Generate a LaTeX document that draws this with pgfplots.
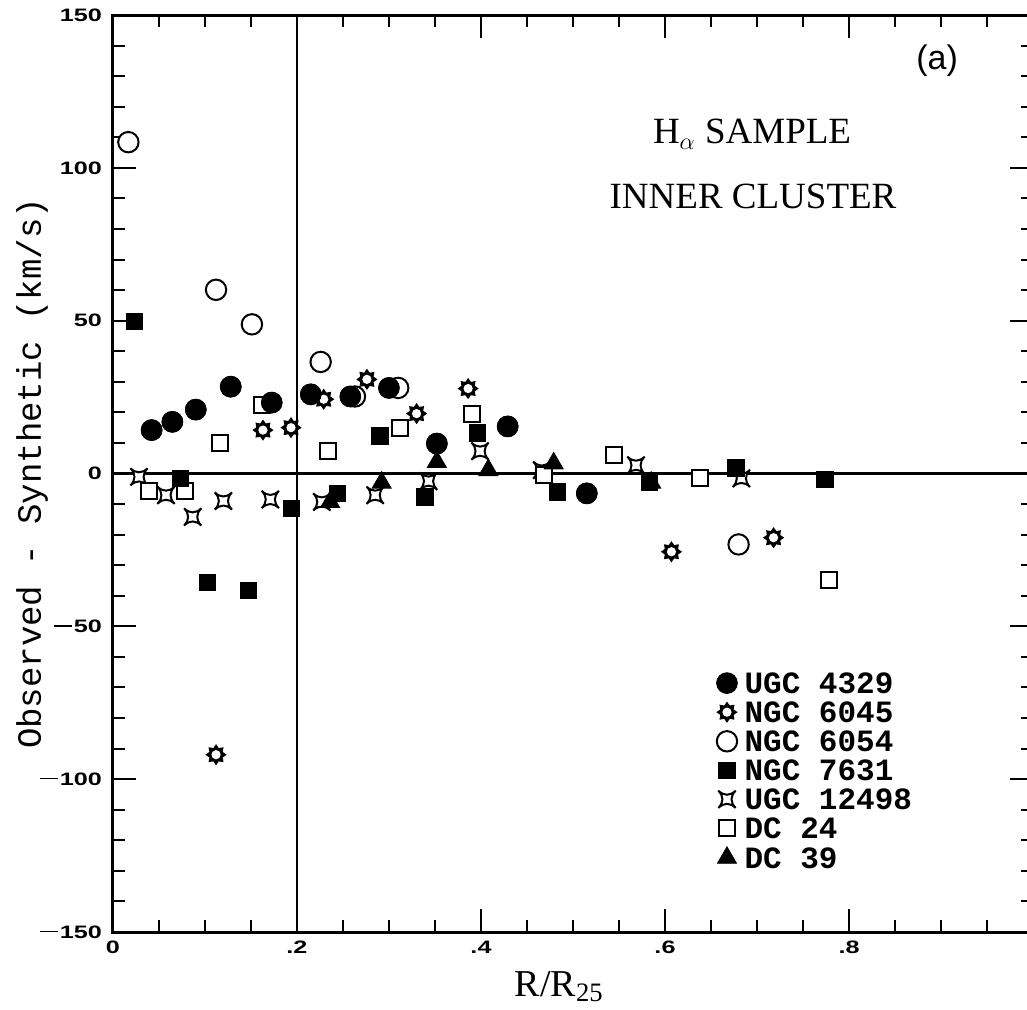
\documentclass[border=0pt]{standalone}
\usepackage{fontspec}
\usepackage{pgfplots}
\pgfplotsset{compat=1.18}
\setmainfont{Liberation Serif}
\newfontfamily\monofont{Liberation Mono}
\newfontfamily\sansfont{Liberation Sans}
\newfontfamily\tickfont[FakeStretch=1.4]{Liberation Sans}

\pgfdeclareplotmark{sunstar}{%
  \pgfsetfillcolor{black}%
  \pgfpathmoveto{\pgfpointpolar{90}{5.3pt}}%
  \pgfpathlineto{\pgfpointpolar{112.5}{3.6pt}}%
  \pgfpathlineto{\pgfpointpolar{135}{5.3pt}}%
  \pgfpathlineto{\pgfpointpolar{157.5}{3.6pt}}%
  \pgfpathlineto{\pgfpointpolar{180}{5.3pt}}%
  \pgfpathlineto{\pgfpointpolar{202.5}{3.6pt}}%
  \pgfpathlineto{\pgfpointpolar{225}{5.3pt}}%
  \pgfpathlineto{\pgfpointpolar{247.5}{3.6pt}}%
  \pgfpathlineto{\pgfpointpolar{270}{5.3pt}}%
  \pgfpathlineto{\pgfpointpolar{292.5}{3.6pt}}%
  \pgfpathlineto{\pgfpointpolar{315}{5.3pt}}%
  \pgfpathlineto{\pgfpointpolar{337.5}{3.6pt}}%
  \pgfpathlineto{\pgfpointpolar{0}{5.3pt}}%
  \pgfpathlineto{\pgfpointpolar{22.5}{3.6pt}}%
  \pgfpathlineto{\pgfpointpolar{45}{5.3pt}}%
  \pgfpathlineto{\pgfpointpolar{67.5}{3.6pt}}%
  \pgfpathclose
  \pgfusepathqfill
  \pgfpathcircle{\pgfpointorigin}{2.3pt}%
  \pgfsetfillcolor{white}%
  \pgfusepathqfill
}
\pgfdeclareplotmark{cstar}{%
  \pgfpathmoveto{\pgfqpoint{4.3pt}{4.3pt}}%
  \pgfpathcurveto{\pgfqpoint{1.5pt}{1.6pt}}{\pgfqpoint{-1.5pt}{1.6pt}}{\pgfqpoint{-4.3pt}{4.3pt}}%
  \pgfpathcurveto{\pgfqpoint{-1.6pt}{1.5pt}}{\pgfqpoint{-1.6pt}{-1.5pt}}{\pgfqpoint{-4.3pt}{-4.3pt}}%
  \pgfpathcurveto{\pgfqpoint{-1.5pt}{-1.6pt}}{\pgfqpoint{1.5pt}{-1.6pt}}{\pgfqpoint{4.3pt}{-4.3pt}}%
  \pgfpathcurveto{\pgfqpoint{1.6pt}{-1.5pt}}{\pgfqpoint{1.6pt}{1.5pt}}{\pgfqpoint{4.3pt}{4.3pt}}%
  \pgfpathclose
  \pgfsetfillcolor{white}\pgfsetstrokecolor{black}%
  \pgfusepathqfillstroke
}

\pgfplotstableread{
x y
0.042 14.2
0.0645 16.9
0.090 20.9
0.128 28.4
0.1725 23.2
0.215 25.9
0.258 25.2
0.300 28.0
0.352 9.8
0.429 15.4
0.515 -6.5
}\ugcA
\pgfplotstableread{
x y
0.112 -92.0
0.163 14.2
0.1935 15.0
0.229 24.3
0.276 30.8
0.330 19.6
0.386 27.8
0.607 -25.6
0.718 -21.0
}\ngcA
\pgfplotstableread{
x y
0.0167 108.4
0.112 60.1
0.151 48.8
0.2257 36.5
0.263 25.2
0.310 28.0
0.680 -23.2
}\ngcB
\pgfplotstableread{
x y
0.023 49.8
0.073 -1.6
0.1025 -35.6
0.147 -38.3
0.194 -11.4
0.244 -6.5
0.290 12.3
0.339 -7.6
0.396 13.3
0.483 -6.0
0.583 -2.7
0.677 1.9
0.774 -2.0
}\ngcC
\pgfplotstableread{
x y
0.0283 -1.1
0.0576 -7.1
0.0866 -14.2
0.120 -9.0
0.171 -8.5
0.227 -9.3
0.285 -7.1
0.343 -2.5
0.399 7.3
0.466 1.1
0.5685 2.7
0.683 -1.6
}\ugcB
\pgfplotstableread{
x y
0.0395 -5.7
0.078 -5.7
0.1163 10.0
0.162 22.5
0.234 7.4
0.312 14.9
0.390 19.6
0.468 -0.5
0.5446 6.2
0.638 -1.6
0.778 -35.0
}\dcA
\pgfplotstableread{
x y
0.236 -9.3
0.292 -3.0
0.352 3.8
0.408 1.1
0.479 3.3
0.585 -3.0
}\dcB

\newcommand{\mn}{\rule[3pt]{9pt}{0.6pt}\hspace{1pt}}

\begin{document}
\begin{tikzpicture}
\begin{axis}[
  at={(0,0)}, anchor=south west,
  scale only axis, width=460pt, height=458.5pt,
  xmin=0, xmax=1, ymin=-150, ymax=150,
  axis line style={line width=1.5pt},
  every tick/.style={black, line width=1pt},
  tick align=inside,
  major tick length=11.5pt, minor tick length=6pt,
  xtick={0,0.2,0.4,0.6,0.8,1},
  xticklabels={0,.2,.4,.6,.8,1},
  minor x tick num=3,
  ytick={-150,-100,-50,0,50,100,150},
  yticklabels={{\mn150},{\mn100},{\mn50},0,50,100,150},
  minor y tick num=4,
  ticklabel style={font=\tickfont\bfseries\fontsize{9}{10}\selectfont},
  xticklabel style={yshift=-1pt},
  yticklabel style={xshift=-2pt},
  xlabel={R/R\textsubscript{25}},
  xlabel style={font=\fontsize{19}{22}\selectfont, at={(axis description cs:0.485,0)}, anchor=base, yshift=-32pt},
  ylabel={Observed - Synthetic (km/s)},
  ylabel style={font=\monofont\fontsize{17}{20}\selectfont, at={(axis description cs:-0.088,0.5)}, anchor=center},
  legend style={draw=none, fill=none, inner sep=0pt,
    at={(axis cs:0.6554,-65.0)}, anchor=north west,
    font=\monofont\bfseries\fontsize{15.5}{15.5}\selectfont,
    row sep=4pt,
    nodes={inner xsep=3.5pt, inner ysep=0pt, text height=10.5pt, text depth=0pt}},
  legend cell align=left,
  legend image code/.code={\draw[#1] plot coordinates {(0pt,0pt)};},
]
\draw[line width=1.2pt] (axis cs:0.2,-150) -- (axis cs:0.2,150);
\draw[line width=1.2pt] (axis cs:0,0) -- (axis cs:1,0);

\addplot[only marks, mark=*, mark size=5.2pt, black] table {\ugcA};
\addlegendentry{UGC 4329}
\addplot[only marks, mark=sunstar, black] table {\ngcA};
\addlegendentry{NGC 6045}
\addplot[only marks, mark=*, mark size=5.1pt, mark options={fill=white, draw=black, line width=1pt}] table {\ngcB};
\addlegendentry{NGC 6054}
\addplot[only marks, mark=square*, mark size=4.1pt, black] table {\ngcC};
\addlegendentry{NGC 7631}
\addplot[only marks, mark=cstar, mark options={line width=1pt}] table {\ugcB};
\addlegendentry{UGC 12498}
\addplot[only marks, mark=square*, mark size=4pt, mark options={fill=white, draw=black, line width=1pt}] table {\dcA};
\addlegendentry{DC 24}
\addplot[only marks, mark=triangle*, mark size=5.5pt, black] table {\dcB};
\addlegendentry{DC 39}
\addplot[only marks, mark=square*, mark size=4.1pt, black, forget plot] table {\ngcC};
\addplot[only marks, mark=*, mark size=5.2pt, black, forget plot] table {\ugcA};

\node[font=\sansfont\fontsize{17}{20}\selectfont] at (axis cs:0.8957,135) {(a)};
\node[font=\fontsize{18.5}{20}\selectfont] at (axis cs:0.6946,111) {H$_\alpha$ SAMPLE};
\node[font=\fontsize{18.5}{20}\selectfont] at (axis cs:0.6957,90.8) {INNER CLUSTER};
\end{axis}
\pgfresetboundingbox
\useasboundingbox (-56.5pt,-38.5pt) rectangle (457pt,466pt);
\end{tikzpicture}
\end{document}
